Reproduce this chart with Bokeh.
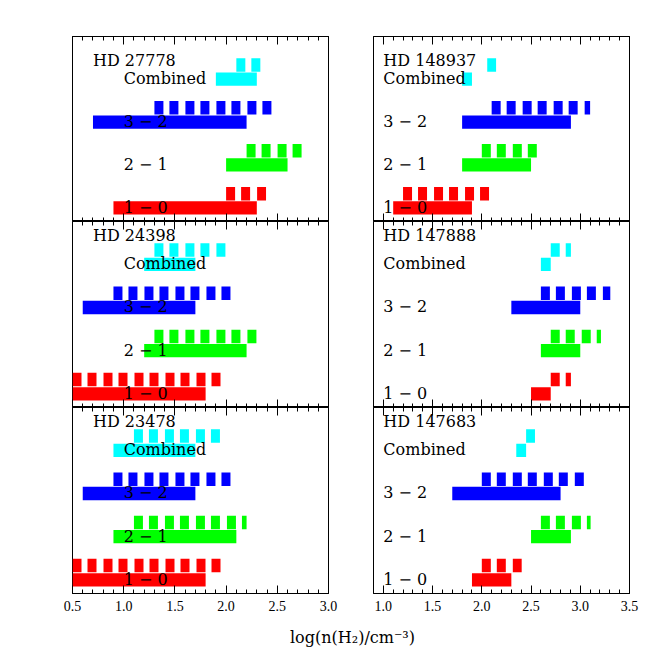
from bokeh.plotting import figure
from bokeh.layouts import column, row
from bokeh.models import (Range1d, LinearAxis, SingleIntervalTicker, NumeralTickFormatter,
                          ColumnDataSource, CustomLabelingPolicy)
from bokeh.embed import file_html
from bokeh.resources import INLINE
from bokeh.core.properties import value

# ---------------- data ----------------
row_labels = ["1 \u2212 0", "2 \u2212 1", "3 \u2212 2", "Combined"]
row_index = [0, 1, 2, 3]
row_colors = ["#ff0000", "#00ff00", "#0000ff", "#00ffff"]

# rows ordered: 1-0, 2-1, 3-2, Combined
hd27778_solid_lo = [0.90, 2.00, 0.70, 1.90]
hd27778_solid_hi = [2.30, 2.60, 2.20, 2.30]
hd27778_dash_lo = [2.00, 2.20, 1.30, 2.10]
hd27778_dash_hi = [2.39, 2.74, 2.45, 2.34]

hd24398_solid_lo = [0.50, 1.20, 0.60, 1.20]
hd24398_solid_hi = [1.80, 2.20, 1.70, 1.70]
hd24398_dash_lo = [0.50, 1.30, 0.90, 1.30]
hd24398_dash_hi = [1.955, 2.30, 2.05, 2.00]

hd23478_solid_lo = [0.50, 0.90, 0.60, 0.90]
hd23478_solid_hi = [1.80, 2.10, 1.70, 1.70]
hd23478_dash_lo = [0.50, 1.10, 0.90, 1.10]
hd23478_dash_hi = [1.955, 2.20, 2.05, 1.95]

hd148937_solid_lo = [1.10, 1.80, 1.80, 1.80]
hd148937_solid_hi = [1.90, 2.50, 2.905, 1.90]
hd148937_dash_lo = [1.20, 2.00, 2.10, 2.055]
hd148937_dash_hi = [2.08, 2.57, 3.10, 2.145]

hd147888_solid_lo = [2.50, 2.60, 2.30, 2.60]
hd147888_solid_hi = [2.70, 3.00, 3.00, 2.70]
hd147888_dash_lo = [2.70, 2.70, 2.60, 2.70]
hd147888_dash_hi = [2.905, 3.21, 3.305, 2.905]

hd147683_solid_lo = [1.90, 2.50, 1.70, 2.35]
hd147683_solid_hi = [2.30, 2.905, 2.80, 2.45]
hd147683_dash_lo = [2.00, 2.60, 2.00, 2.45]
hd147683_dash_hi = [2.405, 3.105, 3.045, 2.54]

left_xrange = (0.5, 3.0)
right_xrange = (0.9, 3.5)
x_title = "log(n(H\u2082)/cm\u207b\u00b3)"

SERIF = "DejaVu Serif"


def add_axes(p, show_labels):
    for loc in ("above", "below"):
        ax = LinearAxis(ticker=SingleIntervalTicker(interval=0.5, num_minor_ticks=5),
                        formatter=NumeralTickFormatter(format="0.0"))
        ax.major_tick_in = 8
        ax.major_tick_out = 0
        ax.minor_tick_in = 4
        ax.minor_tick_out = 0
        ax.axis_line_color = "black"
        ax.major_tick_line_color = "black"
        ax.minor_tick_line_color = "black"
        if loc == "below" and show_labels:
            ax.major_label_text_font = "Liberation Serif"
            ax.major_label_text_font_size = "14px"
            ax.major_label_text_color = "black"
            ax.major_label_standoff = 7
        else:
            ax.major_label_text_font_size = "0px"
            ax.major_label_standoff = 0
            ax.major_label_policy = CustomLabelingPolicy(code="return []")
        p.add_layout(ax, loc)


def make_panel(name, name_x, name_y, slo, shi, dlo, dhi, xr, col, pos):
    if col == 0:
        w, bl, br = 350, 72, 22
    else:
        w, bl, br = 306, 23, 27
    if pos == 0:
        h, bt, bb = 221, 36, 0
    elif pos == 1:
        h, bt, bb = 186, 0, 0
    else:
        h, bt, bb = 216, 0, 30
    p = figure(width=w, height=h, x_range=Range1d(*xr), y_range=Range1d(-0.48, 3.83),
               output_backend="svg", toolbar_location=None,
               x_axis_location=None, y_axis_location=None, title_location=None,
               min_border_left=bl, min_border_right=br,
               min_border_top=bt, min_border_bottom=bb)
    p.grid.visible = False
    p.outline_line_color = "black"
    p.outline_line_width = 1
    p.background_fill_color = "white"
    p.border_fill_color = "white"
    add_axes(p, pos == 2)

    src = ColumnDataSource(dict(
        row=row_index,
        ysolid=[r - 0.163 for r in row_index],
        ydash=[r + 0.168 for r in row_index],
        ylab=[r - 0.15 for r in row_index],
        slo=slo, shi=shi, dlo=dlo, dhi=dhi,
        color=row_colors, label=row_labels,
        lx=[1.0] * len(row_index),
    ))
    p.hbar(y="ysolid", left="slo", right="shi", height=0.31, fill_color="color",
           line_color=None, source=src)
    p.segment(x0="dlo", y0="ydash", x1="dhi", y1="ydash", line_color="color",
              line_width=13.5, line_dash="9 6 9 7", line_cap="butt", source=src)
    p.text(x="lx", y="ylab", text="label", source=src, text_font=value(SERIF),
           text_font_size="16px", text_color="black", text_align="left",
           text_baseline="alphabetic")
    p.text(x=[name_x], y=[name_y], text=[name], text_font=value(SERIF),
           text_font_size="16px", text_color="black", text_align="left",
           text_baseline="alphabetic")
    return p


f1 = make_panel("HD 27778", 0.7, 3.27, hd27778_solid_lo, hd27778_solid_hi,
                hd27778_dash_lo, hd27778_dash_hi, left_xrange, 0, 0)
f2 = make_panel("HD 24398", 0.7, 3.51, hd24398_solid_lo, hd24398_solid_hi,
                hd24398_dash_lo, hd24398_dash_hi, left_xrange, 0, 1)
f3 = make_panel("HD 23478", 0.7, 3.51, hd23478_solid_lo, hd23478_solid_hi,
                hd23478_dash_lo, hd23478_dash_hi, left_xrange, 0, 2)
f4 = make_panel("HD 148937", 1.0, 3.27, hd148937_solid_lo, hd148937_solid_hi,
                hd148937_dash_lo, hd148937_dash_hi, right_xrange, 1, 0)
f5 = make_panel("HD 147888", 1.0, 3.51, hd147888_solid_lo, hd147888_solid_hi,
                hd147888_dash_lo, hd147888_dash_hi, right_xrange, 1, 1)
f6 = make_panel("HD 147683", 1.0, 3.51, hd147683_solid_lo, hd147683_solid_hi,
                hd147683_dash_lo, hd147683_dash_hi, right_xrange, 1, 2)

ft = figure(width=656, height=34, x_range=Range1d(0, 656), y_range=Range1d(0, 34),
            output_backend="svg", toolbar_location=None,
            x_axis_location=None, y_axis_location=None, title_location=None,
            min_border_left=0, min_border_right=0, min_border_top=0, min_border_bottom=0)
ft.grid.visible = False
ft.outline_line_color = None
ft.text(x=[352], y=[20], text=[x_title], text_font=value(SERIF), text_font_size="16px",
        text_color="black", text_align="center", text_baseline="alphabetic")

layout = column(row(f1, f4), row(f2, f5), row(f3, f6), ft)

open("out.html", "w").write(file_html(layout, INLINE))
